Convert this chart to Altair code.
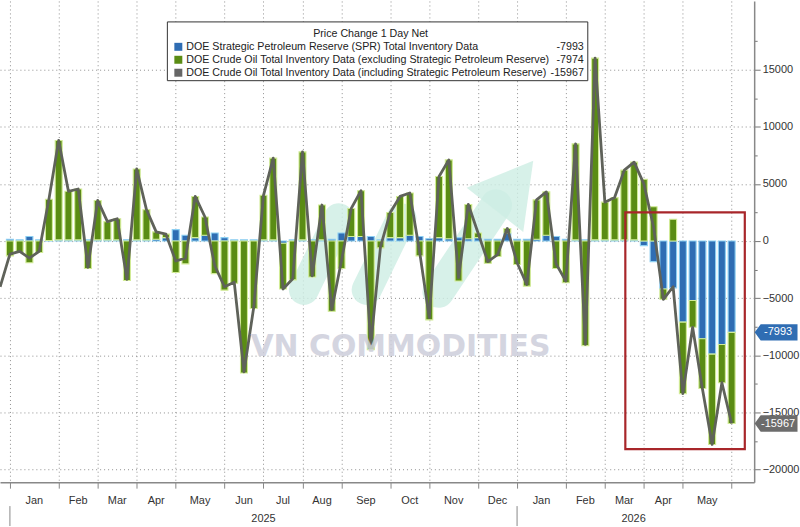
import altair as alt
import pandas as pd

# ---------------- data (weekly) ----------------
week = list(range(75))
spr = [150, 100, 400, 100, 50, 100, 100, 100, 100, 100,
       100, 100, 100, 100, 100, 150, 300, 1000, 500, 300,
       500, 700, 300, 100, 100, 100, 100, 100, -200, 100,
       100, 100, 100, 150, 700, 400, 400, 400, 100, 300,
       300, 500, 400, 200, 300, 200, 300, 200, 300, 150,
       150, 700, 150, 150, 150, 500, 400, 150, 100, 100,
       100, 100, 100, 100, 100, -400, -1800, -4200, -4100, -7100,
       -5200, -8550, -9900, -9050, -7993]
crude = [-1300, -1000, -1900, -1000, 3600, 8700, 4250, 4450, -2400, 3450,
         1600, 1850, -3450, 6200, 2650, 650, 300, -2750, -2000, 3600,
         1600, -2850, -4300, -3700, -11550, -5900, 3900, 7150, -4000, -3400,
         7700, -3150, 3050, -6150, -2400, 2450, 4000, -9500, -600, 2200,
         3600, 3700, -1300, -6900, 5350, 6900, -3500, 3000, 400, -1950,
         -1350, 400, -2050, -3950, 3450, 3800, -2400, -3650, 8400, -9150,
         15900, 3300, 3700, 6100, 6800, 5400, 3000, -900, 1900, -6250,
         -2350, -4350, -7900, -3350, -7974]
total_week = list(range(-1, 75))
total = [-4000, -1150, -900, -1500, -900, 3650, 8800, 4350, 4550, -2300, 3550,
         1700, 1950, -3350, 6300, 2750, 800, 600, -1750, -1500, 3900,
         2100, -2150, -4000, -3600, -11450, -5800, 4000, 7250, -4200, -3300,
         7800, -3050, 3150, -6000, -1700, 2850, 4400, -9100, -500, 2500,
         3900, 4200, -900, -6700, 5650, 7100, -3200, 3200, 700, -1800,
         -1200, 1100, -1900, -3800, 3600, 4300, -2000, -3500, 8500, -9050,
         16000, 3400, 3800, 6200, 6900, 5000, 1200, -5100, -4000, -13350,
         -7550, -12900, -17800, -12400, -15967]

series_names = ["SPR", "Crude"]
legend_labels = [
    "DOE Strategic Petroleum Reserve (SPR) Total Inventory Data",
    "DOE Crude Oil Total Inventory Data (excluding Strategic Petroleum Reserve)",
    "DOE Crude Oil Total Inventory Data (including Strategic Petroleum Reserve)",
]
legend_values = ["-7993", "-7974", "-15967"]
tag_values = [-7993, -15967]
tag_labels = ["-7993", "-15967"]

month_names = ["Jan", "Feb", "Mar", "Apr", "May", "Jun", "Jul", "Aug", "Sep",
               "Oct", "Nov", "Dec", "Jan", "Feb", "Mar", "Apr", "May"]
month_start = [0, 5, 9, 13, 17, 22, 26, 30, 34, 39, 43, 48, 52, 57, 61, 65, 69]
month_end = month_start[1:] + [74]
tick_weeks = month_start + [74]
year_names = ["2025", "2026"]
year_start = [0, 52]
year_mid = [26, 63.95]

box_x = [63.1]
box_x2 = [75.35]
box_y = [2500]
box_y2 = [-18200]

# ---------------- styling ----------------
W, H = 757, 483
FONT = "Liberation Sans"
BLUE, BLUE_EDGE = "#2f6db3", "#8ccff2"
GREEN, GREEN_EDGE = "#5a8c14", "#d2ec96"
GRAY = "#5f625a"
MINT = "#cdeee4"

xscale = alt.Scale(domain=[-0.505, 75.8], nice=False, zero=False)
yscale = alt.Scale(domain=[-21100, 21000], nice=False, zero=False)

bar_df = pd.DataFrame({
    "week": week * 2,
    "series": ["SPR"] * len(week) + ["Crude"] * len(week),
    "value": spr + crude,
    "ord": [0] * len(week) + [1] * len(week),
})
line_df = pd.DataFrame({"week": total_week, "total": total})
month_df = pd.DataFrame({
    "name": month_names,
    "mid": [(a + b) / 2 for a, b in zip(month_start, month_end)],
})
year_df = pd.DataFrame({"name": year_names, "start": year_start, "mid": year_mid})
box_df = pd.DataFrame({"x": box_x, "x2": box_x2, "y": box_y, "y2": box_y2})
tag_df = pd.DataFrame({"v": tag_values, "lab": tag_labels, "c": [BLUE, "#6c6c6c"]})
one = pd.DataFrame({"a": [0]})

xaxis = alt.Axis(values=tick_weeks, labels=False, title=None, grid=True,
                 gridDash=[1, 3], gridColor="#8f8f8f", tickSize=6,
                 tickColor="#888", domainColor="#888", domainWidth=1.5)
cond5000 = "datum.value % 5000 === 0"
yaxis = alt.Axis(
    orient="right", values=list(range(-20000, 20000, 2500)), title=None,
    labelExpr=cond5000 + " ? format(datum.value, 'd') : ''",
    grid=True, gridDash=[1, 3], gridColor="#8f8f8f",
    gridOpacity={"condition": {"test": cond5000, "value": 1}, "value": 0},
    tickSize={"condition": {"test": cond5000, "value": 6}, "value": 3},
    tickColor="#777", domainColor="#888", domainWidth=1.5,
    labelColor="#333", labelFontSize=11, labelFont=FONT, labelPadding=2,
)


def X(field):
    return alt.X(field, type="quantitative", scale=xscale, axis=xaxis)


def Y(field):
    return alt.Y(field, type="quantitative", scale=yscale, axis=yaxis)


# faint logo behind the data (decoration of the watermark)
logo = [
    alt.Chart(one).mark_rule(color=MINT, strokeWidth=30, strokeCap="round", opacity=0.8).encode(
        x=alt.value(305), y=alt.value(290), x2=alt.value(340), y2=alt.value(218)),
    alt.Chart(one).mark_rule(color=MINT, strokeWidth=30, strokeCap="round", opacity=0.8).encode(
        x=alt.value(368), y=alt.value(290), x2=alt.value(403), y2=alt.value(218)),
    alt.Chart(one).mark_rule(color=MINT, strokeWidth=32, strokeCap="round", opacity=0.8).encode(
        x=alt.value(440), y=alt.value(292), x2=alt.value(498), y2=alt.value(205)),
    alt.Chart(one).mark_point(shape="triangle-up", size=5200, filled=True, color=MINT,
                              opacity=0.8, angle=38).encode(x=alt.value(516), y=alt.value(185)),
]

bars = alt.Chart(bar_df).mark_bar(size=7, strokeWidth=1.1).encode(
    x=X("week"),
    y=alt.Y("value:Q", scale=yscale, axis=yaxis, stack="zero"),
    color=alt.Color("series:N", scale=alt.Scale(domain=series_names, range=[BLUE, GREEN]), legend=None),
    stroke=alt.Stroke("series:N", scale=alt.Scale(domain=series_names, range=[BLUE_EDGE, GREEN_EDGE]), legend=None),
    order=alt.Order("ord:Q"),
)

line = alt.Chart(line_df).mark_line(color=GRAY, strokeWidth=2.8, clip=True, strokeJoin="round").encode(
    x=X("week"), y=Y("total"),
)

watermark = alt.Chart(one).mark_text(
    text="VN COMMODITIES", font="DejaVu Sans", fontWeight="bold", fontSize=30,
    color="#cdcedb", opacity=0.85, align="center", baseline="middle",
).encode(x=alt.value(402), y=alt.value(347))

red_box = alt.Chart(box_df).mark_rect(fillOpacity=0, stroke="#a8262a", strokeWidth=2.2).encode(
    x=X("x"), x2="x2:Q", y=Y("y"), y2="y2:Q",
)

months = alt.Chart(month_df).mark_text(font=FONT, fontSize=11, color="#333", baseline="middle").encode(
    x=X("mid"), y=alt.value(H + 19), text="name:N",
)
years = alt.Chart(year_df).mark_text(font=FONT, fontSize=11, color="#333", baseline="middle").encode(
    x=X("mid"), y=alt.value(H + 37), text="name:N",
)
year_rules = alt.Chart(year_df).mark_rule(color="#888", strokeWidth=1).encode(
    x=X("start"), y=alt.value(H + 24), y2=alt.value(H + 44),
)

tag_shape = "M -1 0 L -0.72 -0.38 L 1 -0.38 L 1 0.38 L -0.72 0.38 Z"
tags = alt.Chart(tag_df).mark_point(shape=tag_shape, size=1850, filled=True, opacity=1).encode(
    x=alt.value(W + 22), y=Y("v"),
    color=alt.Color("c:N", scale=None, legend=None),
)
tag_text = alt.Chart(tag_df).mark_text(font=FONT, fontSize=11, color="white", baseline="middle", align="center").encode(
    x=alt.value(W + 24), y=Y("v"), text="lab:N",
)

LF = 10.7
legend_layers = [
    alt.Chart(one).mark_rect(fill="white", stroke="#333", strokeWidth=1).encode(
        x=alt.value(168), x2=alt.value(590), y=alt.value(21), y2=alt.value(80)),
    alt.Chart(one).mark_text(text="Price Change 1 Day Net", font=FONT, fontSize=LF, color="#222",
                             align="center", baseline="middle").encode(x=alt.value(372), y=alt.value(33)),
]
legend_colors = [BLUE, GREEN, "#666666"]
for i, (lab, val, col) in enumerate(zip(legend_labels, legend_values, legend_colors)):
    yy = 46 + 13 * i
    legend_layers.append(alt.Chart(one).mark_square(size=64, color=col, opacity=1).encode(
        x=alt.value(179), y=alt.value(yy)))
    legend_layers.append(alt.Chart(one).mark_text(text=lab, font=FONT, fontSize=LF, color="#222",
                                                  align="left", baseline="middle").encode(
        x=alt.value(187), y=alt.value(yy)))
    legend_layers.append(alt.Chart(one).mark_text(text=val, font=FONT, fontSize=LF, color="#222",
                                                  align="right", baseline="middle").encode(
        x=alt.value(586), y=alt.value(yy)))

chart = alt.layer(
    *logo, bars, line, watermark, red_box, months, years, year_rules, tags, tag_text, *legend_layers
).properties(width=W, height=H, padding=0, background="white").configure_view(stroke=None)

chart.save("out.html", embed_options={"renderer": "svg", "actions": False})
